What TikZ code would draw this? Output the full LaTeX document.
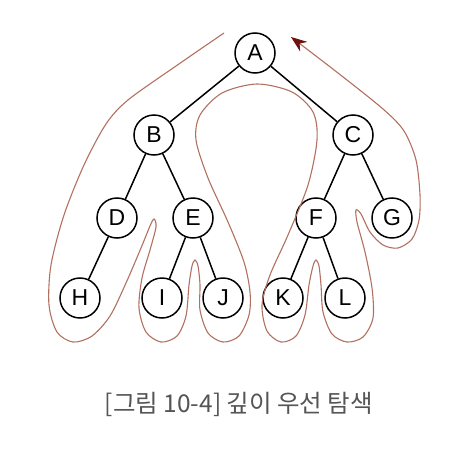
\documentclass[tikz,border=0pt]{standalone}
\usepackage{fontspec}
\setmainfont{Liberation Sans}
\newfontfamily\krfont{Noto Sans CJK KR}
\usetikzlibrary{arrows.meta}
\definecolor{curvecol}{RGB}{178,112,96}
\definecolor{tipcol}{RGB}{110,18,18}
\definecolor{capcol}{RGB}{85,85,85}
\tikzset{
  tnode/.style={circle,draw=black,line width=1.5pt,minimum size=40pt,inner sep=0pt,font=\fontsize{23}{23}\selectfont},
  tedge/.style={draw=black,line width=1.5pt},
  pathline/.style={draw=curvecol,line width=1.1pt},
}
\begin{document}
\begin{tikzpicture}[x=1pt,y=-1pt]
\useasboundingbox (0,0) rectangle (473,455);
\node[tnode] (A) at (255,53) {A};
\node[tnode] (B) at (154,135) {B};
\node[tnode] (C) at (353,135) {C};
\node[tnode] (D) at (117,218) {D};
\node[tnode] (E) at (193,218) {E};
\node[tnode] (F) at (316,218) {F};
\node[tnode] (G) at (392,218) {G};
\node[tnode] (H) at (80,298) {H};
\node[tnode] (I) at (162,298) {I};
\node[tnode] (J) at (223,298) {J};
\node[tnode] (K) at (283,298) {K};
\node[tnode] (L) at (345,298) {L};
\draw[tedge] (A) -- (B);
\draw[tedge] (A) -- (C);
\draw[tedge] (B) -- (D);
\draw[tedge] (B) -- (E);
\draw[tedge] (C) -- (F);
\draw[tedge] (C) -- (G);
\draw[tedge] (D) -- (H);
\draw[tedge] (E) -- (I);
\draw[tedge] (E) -- (J);
\draw[tedge] (F) -- (K);
\draw[tedge] (F) -- (L);
\draw[pathline,-{Stealth[length=16pt,width=12pt,color=tipcol]}] plot[smooth,tension=0.5] coordinates {
(224,33) (176,66) (128,100) (106,124) (84,165) (64,215) (51,265) (49,305) (57,332) (73,342) (92,336) (110,316) (126,283) (141,248) (150,226) (154,219) (156,227) (150,250) (142,278) (139,308) (146,332) (161,342) (177,336) (186,316) (189,285) (192,266) (195,260) (198,266) (200,285) (200,310) (208,333) (223,342) (239,336) (249,315) (250,292) (244,262) (228,222) (208,178) (196,140) (200,115) (222,93) (257,84) (292,92) (313,112) (317,140) (308,185) (288,235) (270,275) (262,305) (267,331) (281,342) (296,336) (305,315) (309,285) (313,266) (316,260) (319,266) (321,285) (323,312) (332,334) (347,342) (363,337) (373,318) (372,288) (365,252) (357,222) (356,210) (361,214) (370,232) (383,245) (398,248) (412,239) (419,220) (420,195) (416,160) (404,131) (383,109) (338,73) (291,37)};
\node[text=capcol,font=\krfont\fontsize{24.5}{24.5}\selectfont] (cap) at (239,404) {[그림 10-4] 깊이 우선 탐색};
\end{tikzpicture}
\end{document}
